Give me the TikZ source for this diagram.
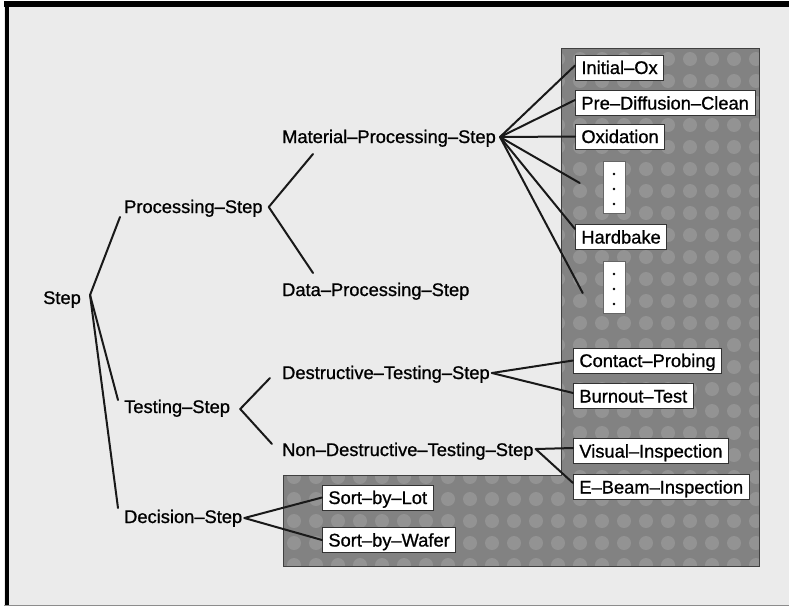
\documentclass[tikz,border=0pt]{standalone}
\usepackage{fontspec}
\setmainfont[FakeBold=0.9]{Liberation Sans}
\usetikzlibrary{calc}
\definecolor{pagebg}{HTML}{EBEBEB}
\definecolor{panelgray}{HTML}{828282}
\definecolor{dotgray}{HTML}{939393}
\begin{document}
\begin{tikzpicture}[x=1pt,y=-1pt,
  lbl/.style={inner sep=0pt, anchor=base west, font=\fontsize{18.3}{20}\selectfont},
  box/.style={fill=white, draw=black!80, line width=0.8pt, inner xsep=6pt, inner ysep=0pt,
    minimum height=25pt, text height=13pt, text depth=0pt, anchor=west,
    font=\fontsize{18.3}{20}\selectfont},
  dotbox/.style={fill=white, draw=black!60, line width=0.6pt, minimum width=22pt,
    minimum height=52pt, inner sep=0pt},
  conn/.style={line width=2pt, black!90, line cap=round, line join=round}]
\useasboundingbox (0,0) rectangle (789,608);
\fill[white] (0,0) rectangle (789,608);
\fill[pagebg] (4,1) rectangle (789,606);
% shaded panel
\fill[panelgray] (561,48) -- (759,48) -- (759,566) -- (283,566) -- (283,475) -- (561,475) -- cycle;
\begin{scope}
  \clip (561,48) -- (759,48) -- (759,566) -- (283,566) -- (283,475) -- (561,475) -- cycle;
  \foreach \i in {0,...,21} {
    \foreach \j in {0,...,23} {
      \fill[dotgray] (294+22*\i, 59+22*\j) circle (7);
    }
  }
\end{scope}
\draw[black!75, line width=0.7pt] (561,48) -- (759,48) -- (759,566) -- (283,566) -- (283,475) -- (561,475) -- cycle;
% page frame
\fill[black] (4,1) rectangle (789,7);
\fill[black] (4.5,1) rectangle (8.5,606);
\draw[black!45, line width=1.5pt] (4,605.5) -- (789,605.5);
% labels
\node[lbl] (step) at (43,304) {Step};
\node[lbl] (ps) at (124,213) {Processing–Step};
\node[lbl] (ts) at (124,413) {Testing–Step};
\node[lbl] (ds) at (124,523) {Decision–Step};
\node[lbl] (mps) at (282,143) {Material–Processing–Step};
\node[lbl] (dps) at (282,296) {Data–Processing–Step};
\node[lbl] (dts) at (282,379) {Destructive–Testing–Step};
\node[lbl] (ndts) at (282,456) {Non–Destructive–Testing–Step};
% boxes
\node[box] (iox) at (575,67.5) {Initial–Ox};
\node[box] (pdc) at (575,103) {Pre–Diffusion–Clean};
\node[box] (oxi) at (575,136.5) {Oxidation};
\node[dotbox] (dta) at (614,187) {};
\node[box] (hb) at (575,237) {Hardbake};
\node[dotbox] (dtb) at (614,287) {};
\node[box] (cp) at (573,360.5) {Contact–Probing};
\node[box] (bt) at (573,396) {Burnout–Test};
\node[box] (vi) at (573,451) {Visual–Inspection};
\node[box] (eb) at (573,487) {E–Beam–Inspection};
\node[box] (sbl) at (322,497.5) {Sort–by–Lot};
\node[box] (sbw) at (322,540) {Sort–by–Wafer};
\foreach \d in {-13,2,17} {
  \fill ($(dta.center)+(0,\d)$) circle (1.3);
  \fill ($(dtb.center)+(0,\d)$) circle (1.3);
}
% vertices
\coordinate (stepV) at ($(step.base east)+(9,-9)$);
\coordinate (psV) at ($(ps.base east)+(6,-6)$);
\coordinate (tsV) at ($(ts.base east)+(10,-4)$);
\coordinate (dsV) at ($(ds.base east)+(2,-5)$);
\coordinate (mpsV) at ($(mps.base east)+(4,-6)$);
\coordinate (dtsV) at ($(dts.base east)+(2,-6)$);
\coordinate (ndtsV) at ($(ndts.base east)+(2,-7)$);
\coordinate (dtaEnd) at ($(dta.west)+(-23,-4)$);
\coordinate (dtbEnd) at ($(dtb.west)+(-20,6)$);
% connectors
\draw[conn] (stepV) -- ($(ps.base west)+(-4,4)$);
\draw[conn] (stepV) -- ($(ts.base west)+(-6,-13)$);
\draw[conn] (stepV) -- ($(ds.base west)+(-6,-15)$);
\draw[conn] (psV) -- ($(mps.base west)+(31,11)$);
\draw[conn] (psV) -- ($(dps.base west)+(31,-23)$);
\draw[conn] (tsV) -- ($(dts.base west)+(-12,-1)$);
\draw[conn] (tsV) -- ($(ndts.base west)+(-10,-12)$);
\draw[conn] (dsV) -- (sbl.west);
\draw[conn] (dsV) -- (sbw.west);
\draw[conn] (mpsV) -- ($(iox.west)+(0,-2)$);
\draw[conn] (mpsV) -- ($(pdc.west)+(0,-3)$);
\draw[conn] (mpsV) -- (oxi.west);
\draw[conn] (mpsV) -- (dtaEnd);
\draw[conn] (mpsV) -- ($(hb.west)+(0,-8)$);
\draw[conn] (mpsV) -- (dtbEnd);
\draw[conn] (dtsV) -- (cp.west);
\draw[conn] (dtsV) -- ($(bt.west)+(0,-3)$);
\draw[conn] (ndtsV) -- ($(vi.west)+(0,-3)$);
\draw[conn] (ndtsV) -- ($(eb.west)+(0,-4)$);
\end{tikzpicture}
\end{document}
